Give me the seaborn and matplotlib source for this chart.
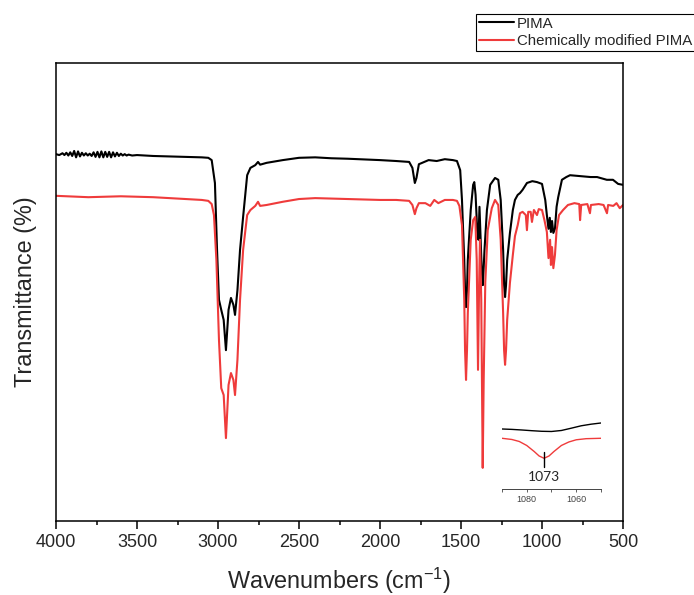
import matplotlib
matplotlib.use('Agg')
import pandas as pd
import seaborn as sns
import matplotlib.pyplot as plt
from matplotlib.ticker import MultipleLocator

# FTIR spectra, transmittance in arbitrary % units
wn_pima = [4000, 3980, 3960, 3948, 3936, 3924, 3912, 3900, 3888, 3876, 3864, 3852, 3840,
           3828, 3816, 3804, 3792, 3780, 3768, 3756, 3744, 3732, 3720, 3708, 3696, 3684,
           3672, 3660, 3648, 3636, 3624, 3612, 3600, 3588, 3576, 3564, 3552, 3530, 3500,
           3400, 3300, 3200, 3100, 3060, 3039, 3019, 3006, 2994, 2980, 2965, 2951, 2935,
           2920, 2905, 2895, 2880, 2864, 2845, 2820, 2800, 2770, 2753, 2740, 2700, 2600,
           2500, 2400, 2300, 2200, 2000, 1900, 1820, 1800, 1785, 1775, 1760, 1740, 1700,
           1650, 1600, 1550, 1525, 1505, 1494, 1480, 1475, 1469, 1463, 1458, 1440, 1425,
           1418, 1410, 1400, 1392, 1386, 1379, 1372, 1365, 1355, 1340, 1320, 1290, 1270,
           1255, 1240, 1234, 1228, 1222, 1215, 1198, 1180, 1167, 1150, 1136, 1120, 1093,
           1060, 1031, 1000, 980, 970, 960, 952, 945, 938, 930, 920, 910, 900, 877, 850,
           827, 760, 700, 660, 600, 562, 530, 500]
t_pima = [80.1, 79.9, 80.3, 79.9, 80.4, 79.8, 80.5, 79.7, 80.8, 79.4, 80.7, 79.6, 80.4,
          79.8, 80.3, 79.8, 80.2, 79.7, 80.5, 79.5, 80.6, 79.4, 80.7, 79.4, 80.6, 79.5,
          80.6, 79.4, 80.5, 79.6, 80.4, 79.7, 80.2, 79.8, 80.1, 79.8, 80.0, 79.8, 79.9,
          79.7, 79.6, 79.5, 79.4, 79.3, 78.8, 73.8, 59.2, 48.3, 46.1, 43.9, 37.3, 46.1,
          48.7, 47.2, 45.0, 50.4, 59.2, 66.4, 75.5, 77.1, 77.7, 78.4, 77.8, 78.2, 78.8,
          79.3, 79.4, 79.2, 79.1, 78.8, 78.6, 78.4, 77.1, 73.8, 74.9, 77.9, 78.2, 78.8,
          78.6, 79.0, 78.8, 78.6, 76.6, 70.1, 57.0, 50.4, 46.7, 50.4, 57.0, 67.9, 73.4,
          74.0, 71.2, 63.5, 61.4, 68.6, 61.4, 54.8, 51.5, 59.2, 67.9, 73.4, 74.9, 74.5,
          70.1, 59.2, 51.5, 48.9, 51.5, 57.0, 62.9, 67.9, 70.1, 71.2, 71.6, 72.3, 73.8,
          74.2, 74.0, 73.6, 70.1, 66.8, 63.8, 66.2, 63.1, 65.5, 62.9, 63.8, 68.6, 70.7,
          74.5, 75.1, 75.5, 75.3, 75.1, 75.1, 74.5, 74.5, 73.6, 73.4]

wn_mod = [4000, 3800, 3600, 3400, 3200, 3100, 3060, 3039, 3025, 3010, 2994, 2980, 2965,
          2951, 2935, 2920, 2905, 2895, 2880, 2864, 2845, 2820, 2800, 2770, 2753, 2740,
          2700, 2600, 2500, 2400, 2200, 2000, 1900, 1820, 1800, 1785, 1775, 1760, 1720,
          1690, 1665, 1640, 1600, 1550, 1525, 1510, 1494, 1480, 1475, 1469, 1463, 1458,
          1440, 1425, 1412, 1403, 1395, 1388, 1383, 1375, 1366, 1360, 1350, 1335, 1310,
          1290, 1270, 1255, 1240, 1234, 1228, 1222, 1215, 1198, 1180, 1167, 1150, 1136,
          1120, 1100, 1093, 1085, 1070, 1062, 1050, 1031, 1020, 1000, 985, 970, 960, 950,
          945, 938, 930, 920, 910, 895, 870, 840, 800, 770, 765, 758, 720, 704, 698, 650,
          620, 599, 592, 560, 540, 520, 500]
t_mod = [71.0, 70.7, 70.9, 70.7, 70.3, 70.1, 69.9, 69.2, 66.8, 57.0, 39.5, 29.0, 27.5,
         18.1, 29.7, 32.3, 30.8, 27.5, 35.2, 48.3, 59.2, 66.8, 67.9, 68.8, 69.7, 68.8,
         69.0, 69.7, 70.3, 70.5, 70.3, 70.1, 70.1, 69.9, 69.0, 67.0, 68.3, 69.4, 69.4,
         68.8, 70.1, 69.4, 70.1, 70.1, 69.9, 68.8, 64.6, 48.3, 37.3, 30.8, 37.3, 45.4,
         61.4, 65.7, 66.4, 57.0, 33.0, 52.2, 61.4, 48.3, 11.6, 30.8, 52.2, 63.5, 68.3,
         70.1, 69.0, 61.4, 45.4, 37.3, 34.1, 37.3, 43.9, 52.0, 58.1, 62.2, 64.6, 67.2,
         67.5, 66.8, 63.5, 67.5, 67.5, 65.3, 67.9, 66.8, 68.1, 67.9, 65.7, 63.1, 57.4,
         61.4, 55.9, 59.8, 55.2, 58.1, 63.5, 66.8, 67.9, 69.0, 69.4, 69.2, 65.7, 69.0,
         69.2, 67.2, 69.0, 69.2, 69.0, 67.2, 69.0, 68.8, 69.4, 68.3, 69.0]

# zoomed inset around the 1073 cm-1 band
wn_inset_pima = [1090, 1086, 1082, 1078, 1074, 1070, 1066, 1062, 1058, 1054, 1050]
t_inset_pima = [60.0, 59.6, 59.0, 58.3, 57.7, 57.5, 58.5, 60.8, 63.2, 64.8, 66.0]
wn_inset_mod = [1090, 1086, 1083, 1080, 1077, 1075, 1073, 1071, 1069, 1066, 1063, 1060,
                1056, 1050]
t_inset_mod = [50.7, 49.5, 47.5, 43.5, 37.5, 33.0, 30.7, 33.0, 37.5, 43.5, 47.0, 49.2,
               50.3, 50.7]
peak_label = '1073'

sns.set_theme(style='white')
plt.rcParams['font.family'] = ['Liberation Sans', 'DejaVu Sans']
plt.rcParams['mathtext.fontset'] = 'custom'
plt.rcParams['mathtext.rm'] = 'Liberation Sans'

red = '#ef3b3b'

fig = plt.figure(figsize=(6.94, 5.95), dpi=100)
ax = fig.add_axes([0.0807, 0.1244, 0.817, 0.7697])

df_pima = pd.DataFrame({'wn': wn_pima, 't': t_pima})
df_mod = pd.DataFrame({'wn': wn_mod, 't': t_mod})
sns.lineplot(data=df_pima, x='wn', y='t', color='black', lw=1.5, ax=ax, label='PIMA', sort=False)
sns.lineplot(data=df_mod, x='wn', y='t', color=red, lw=1.5, ax=ax,
             label='Chemically modified PIMA', sort=False)

ax.set_xlim(4000, 500)
ax.set_ylim(0, 100)
ax.set_yticks([])
ax.xaxis.set_major_locator(MultipleLocator(500))
ax.xaxis.set_minor_locator(MultipleLocator(250))
ax.tick_params(axis='x', which='major', direction='out', length=6, width=1.1,
               labelsize=13, bottom=True, color='black')
ax.tick_params(axis='x', which='minor', direction='out', length=3, width=1.1,
               bottom=True, color='black')
for s in ax.spines.values():
    s.set_color('black')
    s.set_linewidth(1.1)

ax.set_xlabel(r'Wavenumbers (cm$\mathregular{^{-1}}$)', fontsize=16.8)
ax.set_ylabel('Transmittance (%)', fontsize=16.8)
ax.xaxis.set_label_coords(0.5, -0.098)
ax.yaxis.set_label_coords(-0.033, 0.5)

leg = ax.legend(loc='upper left', bbox_to_anchor=(0.686, 0.977), bbox_transform=fig.transFigure,
                fontsize=10.8, frameon=True, fancybox=False, framealpha=1, borderpad=0.2,
                labelspacing=0.25, handlelength=2.3, handletextpad=0.2, borderaxespad=0)
leg.get_frame().set_edgecolor('black')
leg.get_frame().set_linewidth(0.8)

# inset
ins = fig.add_axes([0.7233, 0.1782, 0.1427, 0.1193])
ins.patch.set_alpha(0)
sns.lineplot(x=wn_inset_pima, y=t_inset_pima, color='black', lw=1.0, ax=ins, sort=False)
sns.lineplot(x=wn_inset_mod, y=t_inset_mod, color=red, lw=1.0, ax=ins, sort=False)
ins.set_xlim(1090, 1050)
ins.set_ylim(0, 71)
ins.set_yticks([])
ins.set_xticks([1080, 1060])
ins.xaxis.set_minor_locator(MultipleLocator(10))
ins.tick_params(axis='x', which='both', direction='out', length=2.5, width=0.6,
                labelsize=6.5, bottom=True, color='#444444', labelcolor='#444444', pad=2)
for side in ['left', 'top', 'right']:
    ins.spines[side].set_visible(False)
ins.spines['bottom'].set_color('#444444')
ins.spines['bottom'].set_linewidth(0.7)
ins.set_xlabel('')
ins.set_ylabel('')
ins.plot([1073, 1073], [22.3, 37.3], color='black', lw=1.0)
ins.text(1073, 12.3, peak_label, ha='center', va='center', fontsize=10,
         family=['Lato', 'DejaVu Sans'])

fig.savefig('out.png', dpi=100)
